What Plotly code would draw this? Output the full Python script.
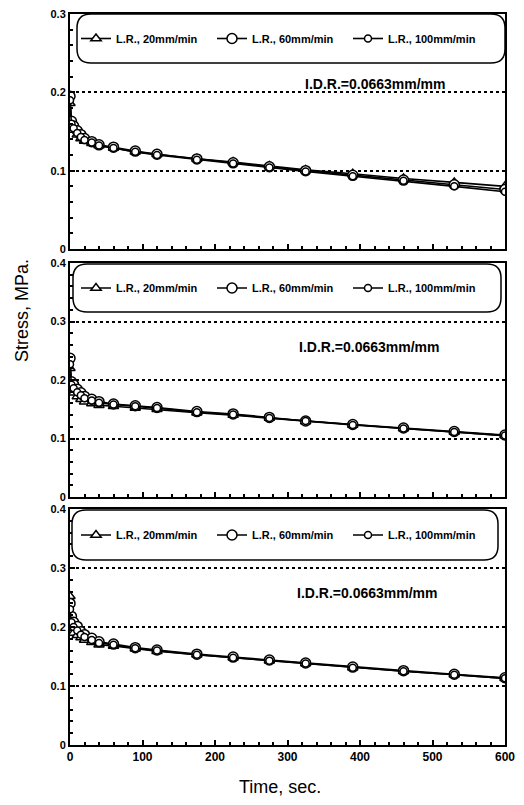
import plotly.graph_objects as go

# ---------------- data ----------------
time_s = [0, 2, 5, 10, 15, 20, 30, 40, 60, 90, 120, 175, 225, 275, 325, 390, 460, 530, 600]

series_names = ["L.R., 20mm/min", "L.R., 60mm/min", "L.R., 100mm/min"]

# panel 1 (top)
p1_lr20  = [0.186, 0.158, 0.152, 0.146, 0.141, 0.138, 0.135, 0.132, 0.129, 0.124, 0.121, 0.115, 0.111, 0.106, 0.101, 0.096, 0.090, 0.085, 0.080]
p1_lr60  = [0.195, 0.163, 0.157, 0.151, 0.146, 0.141, 0.137, 0.133, 0.130, 0.125, 0.121, 0.115, 0.110, 0.105, 0.100, 0.094, 0.088, 0.082, 0.076]
p1_lr100 = [0.190, 0.160, 0.154, 0.148, 0.143, 0.139, 0.136, 0.132, 0.129, 0.124, 0.120, 0.114, 0.109, 0.104, 0.099, 0.093, 0.087, 0.080, 0.073]

# panel 2 (middle)
p2_lr20  = [0.220, 0.185, 0.178, 0.172, 0.167, 0.163, 0.160, 0.157, 0.155, 0.152, 0.150, 0.144, 0.140, 0.135, 0.129, 0.123, 0.117, 0.111, 0.105]
p2_lr60  = [0.237, 0.197, 0.192, 0.184, 0.178, 0.172, 0.167, 0.163, 0.159, 0.156, 0.153, 0.146, 0.142, 0.136, 0.130, 0.124, 0.118, 0.112, 0.106]
p2_lr100 = [0.227, 0.192, 0.186, 0.179, 0.174, 0.169, 0.165, 0.161, 0.158, 0.155, 0.152, 0.145, 0.141, 0.135, 0.130, 0.123, 0.117, 0.111, 0.105]

# panel 3 (bottom)
p3_lr20  = [0.252, 0.198, 0.190, 0.186, 0.182, 0.178, 0.174, 0.170, 0.168, 0.163, 0.159, 0.153, 0.148, 0.143, 0.138, 0.131, 0.125, 0.119, 0.113]
p3_lr60  = [0.240, 0.218, 0.208, 0.201, 0.192, 0.187, 0.181, 0.175, 0.171, 0.165, 0.161, 0.154, 0.149, 0.144, 0.139, 0.132, 0.126, 0.120, 0.114]
p3_lr100 = [0.230, 0.208, 0.200, 0.194, 0.187, 0.183, 0.178, 0.173, 0.170, 0.164, 0.160, 0.153, 0.148, 0.143, 0.138, 0.131, 0.125, 0.119, 0.113]

panels = [
    dict(series=[p1_lr20, p1_lr60, p1_lr100], ymax=0.3),
    dict(series=[p2_lr20, p2_lr60, p2_lr100], ymax=0.4),
    dict(series=[p3_lr20, p3_lr60, p3_lr100], ymax=0.4),
]
idr_label = "I.D.R.=0.0663mm/mm"
x_ticks = [0, 100, 200, 300, 400, 500, 600]

# ---------------- layout geometry (page pixels) ----------------
OFF = 8                      # default body margin of the html page
W, H = 524 - 2 * OFF, 805 - 2 * OFF
X0, X1 = 70, 505
panel_px = [(14, 249), (263, 497), (509, 745)]       # top, bottom px of each plot area
legend_box_px = [(77, 14, 505, 63), (73, 264, 501, 312), (72, 510, 498, 560)]
idr_px = [(375, 84), (369, 347), (367, 593)]

def px2paper_x(px):
    return (px - OFF) / W

def px2paper_y(py):
    return 1 - (py - OFF) / H

def rounded_rect(x0, y0, x1, y1, r):
    def P(x, y):
        return f"{px2paper_x(x):.5f},{px2paper_y(y):.5f}"
    return (f"M {P(x0 + r, y0)} L {P(x1 - r, y0)} "
            f"Q {P(x1, y0)} {P(x1, y0 + r)} L {P(x1, y1 - r)} "
            f"Q {P(x1, y1)} {P(x1 - r, y1)} L {P(x0 + r, y1)} "
            f"Q {P(x0, y1)} {P(x0, y1 - r)} L {P(x0, y0 + r)} "
            f"Q {P(x0, y0)} {P(x0 + r, y0)} Z")

fig = go.Figure()

symbols = ["triangle-up", "circle", "circle"]
sizes = [9, 10, 7]

FONT = "Liberation Sans, Arial, sans-serif"

for i, pan in enumerate(panels):
    k = "" if i == 0 else str(i + 1)
    for j, vals in enumerate(pan["series"]):
        fig.add_trace(go.Scatter(
            x=time_s, y=vals, mode="lines+markers",
            name=series_names[j],
            xaxis="x" + k, yaxis="y" + k,
            legend="legend" + k,
            line=dict(color="black", width=1.6),
            marker=dict(symbol=symbols[j], size=sizes[j], color="white",
                        line=dict(color="black", width=1.5)),
            showlegend=True,
        ))
    top, bot = panel_px[i]
    ydom = [px2paper_y(bot), px2paper_y(top)]
    fig.layout["yaxis" + k] = dict(
        domain=ydom, range=[0, pan["ymax"]], anchor="x" + k,
        dtick=0.1, ticks="inside", ticklen=5, tickwidth=1.5,
        tickcolor="black", showline=True, linecolor="black", linewidth=2,
        mirror=True, showgrid=True, gridcolor="black", griddash="dot",
        gridwidth=1.6, zeroline=False, automargin=False,
        ticklabeloverflow="allow",
        minor=dict(dtick=0.02, ticks="inside", ticklen=3, tickcolor="black",
                   showgrid=False),
        tickfont=dict(family=FONT, size=11, color="black", weight="bold"),
        fixedrange=True,
    )
    fig.layout["xaxis" + k] = dict(
        domain=[px2paper_x(X0), px2paper_x(X1)], range=[0, 600],
        anchor="y" + k, tickvals=x_ticks,
        ticktext=[str(v) for v in x_ticks] if i == 2 else ["" for _ in x_ticks],
        ticks="inside", ticklen=5, tickwidth=1.5, tickcolor="black",
        showline=True, linecolor="black", linewidth=2, mirror=True,
        showgrid=False, zeroline=False, automargin=False,
        ticklabeloverflow="allow",
        minor=dict(dtick=20, ticks="inside", ticklen=3, tickcolor="black"),
        tickfont=dict(family=FONT, size=12, color="black", weight="bold"),
        fixedrange=True,
    )
    bx0, by0, bx1, by1 = legend_box_px[i]
    fig.add_shape(type="path", xref="paper", yref="paper",
                  path=rounded_rect(bx0, by0, bx1, by1, 14),
                  line=dict(color="black", width=1.5), fillcolor="white",
                  layer="above")
    fig.layout["legend" + k] = dict(
        x=px2paper_x(76), y=px2paper_y((by0 + by1) / 2),
        xanchor="left", yanchor="middle", orientation="h",
        bgcolor="rgba(0,0,0,0)", borderwidth=0,
        font=dict(family=FONT, size=11, color="black", weight="bold"),
        itemwidth=30, entrywidth=91, entrywidthmode="pixels",
        tracegroupgap=0,
    )
    ax, ay = idr_px[i]
    fig.add_annotation(x=px2paper_x(ax), y=px2paper_y(ay), xref="paper",
                       yref="paper", text=idr_label, showarrow=False,
                       xanchor="center", yanchor="middle",
                       font=dict(family=FONT, size=14, color="black", weight="bold"))

fig.add_annotation(x=px2paper_x(22), y=px2paper_y(311), xref="paper", yref="paper",
                   text="Stress, MPa.", textangle=-90, showarrow=False,
                   xanchor="center", yanchor="middle",
                   font=dict(family=FONT, size=18, color="black"))
fig.add_annotation(x=px2paper_x(280), y=px2paper_y(787), xref="paper", yref="paper",
                   text="Time, sec.", showarrow=False,
                   xanchor="center", yanchor="middle",
                   font=dict(family=FONT, size=18, color="black"))

fig.update_layout(width=W, height=H, margin=dict(l=0, r=0, t=0, b=0, autoexpand=False),
                  paper_bgcolor="white", plot_bgcolor="white",
                  showlegend=True)

fig.write_html("out.html")
